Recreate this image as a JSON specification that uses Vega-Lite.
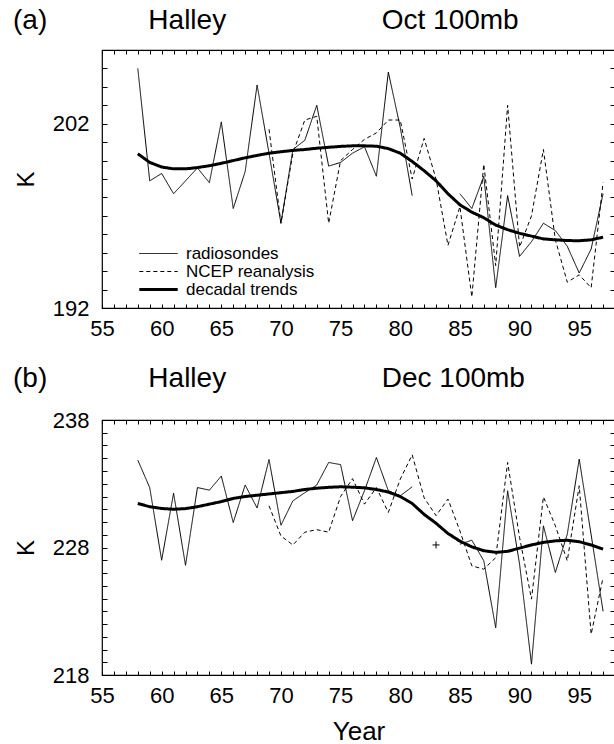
{
  "$schema": "https://vega.github.io/schema/vega-lite/v6.json",
  "padding": {"left": 12, "top": 6, "right": 0, "bottom": 0},
  "background": "white",
  "bounds": "flush",
  "spacing": 112,
  "datasets": {
    "oct": [
      {"year": 58, "series": "radiosondes", "K": 205.0},
      {"year": 59, "series": "radiosondes", "K": 198.9},
      {"year": 60, "series": "radiosondes", "K": 199.3},
      {"year": 61, "series": "radiosondes", "K": 198.2},
      {"year": 62, "series": "radiosondes", "K": 198.9},
      {"year": 63, "series": "radiosondes", "K": 199.6},
      {"year": 64, "series": "radiosondes", "K": 198.8},
      {"year": 65, "series": "radiosondes", "K": 202.1},
      {"year": 66, "series": "radiosondes", "K": 197.4},
      {"year": 67, "series": "radiosondes", "K": 199.4},
      {"year": 68, "series": "radiosondes", "K": 204.1},
      {"year": 69, "series": "radiosondes", "K": 200.4},
      {"year": 70, "series": "radiosondes", "K": 196.6},
      {"year": 71, "series": "radiosondes", "K": 200.6},
      {"year": 72, "series": "radiosondes", "K": 201.1},
      {"year": 73, "series": "radiosondes", "K": 203.0},
      {"year": 74, "series": "radiosondes", "K": 199.7},
      {"year": 75, "series": "radiosondes", "K": 199.9},
      {"year": 76, "series": "radiosondes", "K": 200.4},
      {"year": 77, "series": "radiosondes", "K": 200.75},
      {"year": 78, "series": "radiosondes", "K": 199.15},
      {"year": 79, "series": "radiosondes", "K": 204.8},
      {"year": 80, "series": "radiosondes", "K": 201.8},
      {"year": 81, "series": "radiosondes", "K": 198.1},
      {"year": 82, "series": "radiosondes", "K": null},
      {"year": 83, "series": "radiosondes", "K": null},
      {"year": 84, "series": "radiosondes", "K": null},
      {"year": 85, "series": "radiosondes", "K": 198.2},
      {"year": 86, "series": "radiosondes", "K": 197.4},
      {"year": 87, "series": "radiosondes", "K": 199.15},
      {"year": 88, "series": "radiosondes", "K": 193.1},
      {"year": 89, "series": "radiosondes", "K": 198.1},
      {"year": 90, "series": "radiosondes", "K": 194.8},
      {"year": 91, "series": "radiosondes", "K": 195.6},
      {"year": 92, "series": "radiosondes", "K": 196.6},
      {"year": 93, "series": "radiosondes", "K": 196.2},
      {"year": 94, "series": "radiosondes", "K": 195.35},
      {"year": 95, "series": "radiosondes", "K": 193.9},
      {"year": 96, "series": "radiosondes", "K": 195.2},
      {"year": 97, "series": "radiosondes", "K": 198.2},
      {"year": 69, "series": "NCEP reanalysis", "K": 201.7},
      {"year": 70, "series": "NCEP reanalysis", "K": 196.6},
      {"year": 71, "series": "NCEP reanalysis", "K": 200.4},
      {"year": 72, "series": "NCEP reanalysis", "K": 202.2},
      {"year": 73, "series": "NCEP reanalysis", "K": 202.4},
      {"year": 74, "series": "NCEP reanalysis", "K": 196.6},
      {"year": 75, "series": "NCEP reanalysis", "K": 200.0},
      {"year": 76, "series": "NCEP reanalysis", "K": 200.6},
      {"year": 77, "series": "NCEP reanalysis", "K": 201.15},
      {"year": 78, "series": "NCEP reanalysis", "K": 201.5},
      {"year": 79, "series": "NCEP reanalysis", "K": 202.2},
      {"year": 80, "series": "NCEP reanalysis", "K": 202.2},
      {"year": 81, "series": "NCEP reanalysis", "K": 199.0},
      {"year": 82, "series": "NCEP reanalysis", "K": 201.2},
      {"year": 83, "series": "NCEP reanalysis", "K": 199.0},
      {"year": 84, "series": "NCEP reanalysis", "K": 195.4},
      {"year": 85, "series": "NCEP reanalysis", "K": 197.5},
      {"year": 86, "series": "NCEP reanalysis", "K": 192.6},
      {"year": 87, "series": "NCEP reanalysis", "K": 199.8},
      {"year": 88, "series": "NCEP reanalysis", "K": 194.3},
      {"year": 89, "series": "NCEP reanalysis", "K": 203.0},
      {"year": 90, "series": "NCEP reanalysis", "K": 195.3},
      {"year": 91, "series": "NCEP reanalysis", "K": 197.0},
      {"year": 92, "series": "NCEP reanalysis", "K": 200.6},
      {"year": 93, "series": "NCEP reanalysis", "K": 195.7},
      {"year": 94, "series": "NCEP reanalysis", "K": 193.4},
      {"year": 95, "series": "NCEP reanalysis", "K": 193.8},
      {"year": 96, "series": "NCEP reanalysis", "K": 193.1},
      {"year": 97, "series": "NCEP reanalysis", "K": 198.8},
      {"year": 58, "series": "decadal trends", "K": 200.37},
      {"year": 59, "series": "decadal trends", "K": 199.9},
      {"year": 60, "series": "decadal trends", "K": 199.65},
      {"year": 61, "series": "decadal trends", "K": 199.55},
      {"year": 62, "series": "decadal trends", "K": 199.55},
      {"year": 63, "series": "decadal trends", "K": 199.62},
      {"year": 64, "series": "decadal trends", "K": 199.72},
      {"year": 65, "series": "decadal trends", "K": 199.85},
      {"year": 66, "series": "decadal trends", "K": 200.0},
      {"year": 67, "series": "decadal trends", "K": 200.15},
      {"year": 68, "series": "decadal trends", "K": 200.28},
      {"year": 69, "series": "decadal trends", "K": 200.4},
      {"year": 70, "series": "decadal trends", "K": 200.48},
      {"year": 71, "series": "decadal trends", "K": 200.55},
      {"year": 72, "series": "decadal trends", "K": 200.6},
      {"year": 73, "series": "decadal trends", "K": 200.67},
      {"year": 74, "series": "decadal trends", "K": 200.72},
      {"year": 75, "series": "decadal trends", "K": 200.77},
      {"year": 76, "series": "decadal trends", "K": 200.8},
      {"year": 77, "series": "decadal trends", "K": 200.8},
      {"year": 78, "series": "decadal trends", "K": 200.78},
      {"year": 79, "series": "decadal trends", "K": 200.65},
      {"year": 80, "series": "decadal trends", "K": 200.4},
      {"year": 81, "series": "decadal trends", "K": 199.95},
      {"year": 82, "series": "decadal trends", "K": 199.45},
      {"year": 83, "series": "decadal trends", "K": 198.9},
      {"year": 84, "series": "decadal trends", "K": 198.2},
      {"year": 85, "series": "decadal trends", "K": 197.6},
      {"year": 86, "series": "decadal trends", "K": 197.2},
      {"year": 87, "series": "decadal trends", "K": 196.9},
      {"year": 88, "series": "decadal trends", "K": 196.5},
      {"year": 89, "series": "decadal trends", "K": 196.25},
      {"year": 90, "series": "decadal trends", "K": 196.05},
      {"year": 91, "series": "decadal trends", "K": 195.9},
      {"year": 92, "series": "decadal trends", "K": 195.75},
      {"year": 93, "series": "decadal trends", "K": 195.7},
      {"year": 94, "series": "decadal trends", "K": 195.66},
      {"year": 95, "series": "decadal trends", "K": 195.65},
      {"year": 96, "series": "decadal trends", "K": 195.7},
      {"year": 97, "series": "decadal trends", "K": 195.84}
    ],
    "dec": [
      {"year": 58, "series": "radiosondes", "K": 234.85},
      {"year": 59, "series": "radiosondes", "K": 232.7},
      {"year": 60, "series": "radiosondes", "K": 227.0},
      {"year": 61, "series": "radiosondes", "K": 232.26},
      {"year": 62, "series": "radiosondes", "K": 226.6},
      {"year": 63, "series": "radiosondes", "K": 232.7},
      {"year": 64, "series": "radiosondes", "K": 232.5},
      {"year": 65, "series": "radiosondes", "K": 233.6},
      {"year": 66, "series": "radiosondes", "K": 229.96},
      {"year": 67, "series": "radiosondes", "K": 232.9},
      {"year": 68, "series": "radiosondes", "K": 231.1},
      {"year": 69, "series": "radiosondes", "K": 234.9},
      {"year": 70, "series": "radiosondes", "K": 229.75},
      {"year": 71, "series": "radiosondes", "K": 231.66},
      {"year": 72, "series": "radiosondes", "K": 232.3},
      {"year": 73, "series": "radiosondes", "K": 232.9},
      {"year": 74, "series": "radiosondes", "K": 234.67},
      {"year": 75, "series": "radiosondes", "K": 234.5},
      {"year": 76, "series": "radiosondes", "K": 230.1},
      {"year": 77, "series": "radiosondes", "K": 232.45},
      {"year": 78, "series": "radiosondes", "K": 235.06},
      {"year": 79, "series": "radiosondes", "K": 232.45},
      {"year": 80, "series": "radiosondes", "K": 232.05},
      {"year": 81, "series": "radiosondes", "K": 232.76},
      {"year": 82, "series": "radiosondes", "K": null},
      {"year": 83, "series": "radiosondes", "K": null},
      {"year": 84, "series": "radiosondes", "K": null},
      {"year": 85, "series": "radiosondes", "K": 228.26},
      {"year": 86, "series": "radiosondes", "K": 228.57},
      {"year": 87, "series": "radiosondes", "K": 226.96},
      {"year": 88, "series": "radiosondes", "K": 221.7},
      {"year": 89, "series": "radiosondes", "K": 232.45},
      {"year": 90, "series": "radiosondes", "K": 226.7},
      {"year": 91, "series": "radiosondes", "K": 218.85},
      {"year": 92, "series": "radiosondes", "K": 229.7},
      {"year": 93, "series": "radiosondes", "K": 226.04},
      {"year": 94, "series": "radiosondes", "K": 229.04},
      {"year": 95, "series": "radiosondes", "K": 234.93},
      {"year": 96, "series": "radiosondes", "K": 229.0},
      {"year": 97, "series": "radiosondes", "K": 223.0},
      {"year": 69, "series": "NCEP reanalysis", "K": 231.27},
      {"year": 70, "series": "NCEP reanalysis", "K": 228.9},
      {"year": 71, "series": "NCEP reanalysis", "K": 228.2},
      {"year": 72, "series": "NCEP reanalysis", "K": 229.2},
      {"year": 73, "series": "NCEP reanalysis", "K": 229.4},
      {"year": 74, "series": "NCEP reanalysis", "K": 229.2},
      {"year": 75, "series": "NCEP reanalysis", "K": 232.0},
      {"year": 76, "series": "NCEP reanalysis", "K": 233.4},
      {"year": 77, "series": "NCEP reanalysis", "K": 231.4},
      {"year": 78, "series": "NCEP reanalysis", "K": 232.7},
      {"year": 79, "series": "NCEP reanalysis", "K": 230.75},
      {"year": 80, "series": "NCEP reanalysis", "K": 233.36},
      {"year": 81, "series": "NCEP reanalysis", "K": 235.27},
      {"year": 82, "series": "NCEP reanalysis", "K": 231.9},
      {"year": 83, "series": "NCEP reanalysis", "K": 230.5},
      {"year": 84, "series": "NCEP reanalysis", "K": 231.8},
      {"year": 85, "series": "NCEP reanalysis", "K": 229.3},
      {"year": 86, "series": "NCEP reanalysis", "K": 226.56},
      {"year": 87, "series": "NCEP reanalysis", "K": 226.3},
      {"year": 88, "series": "NCEP reanalysis", "K": 227.2},
      {"year": 89, "series": "NCEP reanalysis", "K": 234.67},
      {"year": 90, "series": "NCEP reanalysis", "K": 228.8},
      {"year": 91, "series": "NCEP reanalysis", "K": 223.95},
      {"year": 92, "series": "NCEP reanalysis", "K": 231.97},
      {"year": 93, "series": "NCEP reanalysis", "K": 229.7},
      {"year": 94, "series": "NCEP reanalysis", "K": 226.96},
      {"year": 95, "series": "NCEP reanalysis", "K": 232.84},
      {"year": 96, "series": "NCEP reanalysis", "K": 221.2},
      {"year": 97, "series": "NCEP reanalysis", "K": 225.65},
      {"year": 58, "series": "decadal trends", "K": 231.45},
      {"year": 59, "series": "decadal trends", "K": 231.2},
      {"year": 60, "series": "decadal trends", "K": 231.06},
      {"year": 61, "series": "decadal trends", "K": 231.0},
      {"year": 62, "series": "decadal trends", "K": 231.05},
      {"year": 63, "series": "decadal trends", "K": 231.2},
      {"year": 64, "series": "decadal trends", "K": 231.4},
      {"year": 65, "series": "decadal trends", "K": 231.6},
      {"year": 66, "series": "decadal trends", "K": 231.85},
      {"year": 67, "series": "decadal trends", "K": 232.0},
      {"year": 68, "series": "decadal trends", "K": 232.1},
      {"year": 69, "series": "decadal trends", "K": 232.2},
      {"year": 70, "series": "decadal trends", "K": 232.3},
      {"year": 71, "series": "decadal trends", "K": 232.4},
      {"year": 72, "series": "decadal trends", "K": 232.55},
      {"year": 73, "series": "decadal trends", "K": 232.65},
      {"year": 74, "series": "decadal trends", "K": 232.72},
      {"year": 75, "series": "decadal trends", "K": 232.76},
      {"year": 76, "series": "decadal trends", "K": 232.73},
      {"year": 77, "series": "decadal trends", "K": 232.68},
      {"year": 78, "series": "decadal trends", "K": 232.55},
      {"year": 79, "series": "decadal trends", "K": 232.35},
      {"year": 80, "series": "decadal trends", "K": 232.0},
      {"year": 81, "series": "decadal trends", "K": 231.45},
      {"year": 82, "series": "decadal trends", "K": 230.6},
      {"year": 83, "series": "decadal trends", "K": 229.9},
      {"year": 84, "series": "decadal trends", "K": 229.1},
      {"year": 85, "series": "decadal trends", "K": 228.5},
      {"year": 86, "series": "decadal trends", "K": 228.05},
      {"year": 87, "series": "decadal trends", "K": 227.75},
      {"year": 88, "series": "decadal trends", "K": 227.62},
      {"year": 89, "series": "decadal trends", "K": 227.7},
      {"year": 90, "series": "decadal trends", "K": 227.95},
      {"year": 91, "series": "decadal trends", "K": 228.2},
      {"year": 92, "series": "decadal trends", "K": 228.4},
      {"year": 93, "series": "decadal trends", "K": 228.52},
      {"year": 94, "series": "decadal trends", "K": 228.57},
      {"year": 95, "series": "decadal trends", "K": 228.45},
      {"year": 96, "series": "decadal trends", "K": 228.2},
      {"year": 97, "series": "decadal trends", "K": 227.87}
    ],
    "dec_mark": [
      {"year": 83, "K": 228.2}
    ]
  },
  "config": {
    "font": "Liberation Sans",
    "view": {"stroke": "black", "strokeWidth": 1.2},
    "axis": {
      "domain": false, "grid": false, "tickColor": "black", "tickWidth": 1,
      "labelColor": "black", "labelFontSize": 22, "labelFont": "Liberation Sans",
      "labelFlush": false, "labelOverlap": false,
      "titleColor": "black", "titleFont": "Liberation Sans", "titleFontWeight": "normal"
    },
    "title": {"font": "Liberation Sans", "fontSize": 28, "fontWeight": "normal", "color": "black", "anchor": "start", "frame": "group", "baseline": "alphabetic"}
  },
  "resolve": {
    "scale": {"strokeDash": "independent", "strokeWidth": "independent"},
    "legend": {"strokeDash": "independent", "strokeWidth": "independent"}
  },
  "vconcat": [
    {
      "width": 513,
      "height": 258,
      "title": {"text": "(a)\u00a0\u00a0\u00a0\u00a0\u00a0\u00a0\u00a0\u00a0\u00a0\u00a0\u00a0\u00a0\u00a0Halley\u00a0\u00a0\u00a0\u00a0\u00a0\u00a0\u00a0\u00a0\u00a0\u00a0\u00a0\u00a0\u00a0\u00a0\u00a0\u00a0\u00a0\u00a0\u00a0\u00a0Oct 100mb", "dx": -89, "offset": 4},
      "data": {"name": "oct"},
      "layer": [
        {
          "transform": [{"filter": {"field": "series", "oneOf": ["radiosondes", "NCEP reanalysis"]}}],
          "mark": {"type": "line", "color": "black", "invalid": "break-paths-show-domains"},
          "encoding": {
            "x": {"field": "year", "type": "quantitative", "scale": {"domain": [55, 98], "nice": false, "zero": false},
              "axis": {"orient": "bottom", "title": null, "values": [55,56,57,58,59,60,61,62,63,64,65,66,67,68,69,70,71,72,73,74,75,76,77,78,79,80,81,82,83,84,85,86,87,88,89,90,91,92,93,94,95,96,97,98],
                "labelExpr": "datum.value % 5 === 0 ? datum.label : ''", "tickSize": -4, "labelPadding": 14}},
            "y": {"field": "K", "type": "quantitative", "scale": {"domain": [192, 206], "nice": false, "zero": false},
              "axis": {"orient": "left", "title": "K", "titleFontSize": 24, "titlePadding": 14, "values": [192,193,194,195,196,197,198,199,200,201,202,203,204,205,206],
                "labelExpr": "datum.value % 10 === 2 ? datum.label : ''", "tickSize": -5, "labelPadding": 18}},
            "strokeDash": {"field": "series", "type": "nominal",
              "scale": {"domain": ["radiosondes", "NCEP reanalysis", "decadal trends"], "range": [[1, 0], [4, 3], [1, 0]]},
              "legend": {"orient": "none", "legendX": 47, "legendY": 195, "title": null, "padding": 0, "symbolType": "M-2.4,0H2.4", "symbolSize": 256, "symbolStrokeColor": "black", "labelFont": "Liberation Sans", "labelFontSize": 17, "labelColor": "black", "labelOffset": 18, "rowPadding": 0}},
            "strokeWidth": {"field": "series", "type": "nominal",
              "scale": {"type": "ordinal", "domain": ["radiosondes", "NCEP reanalysis", "decadal trends"], "range": [1, 1, 3]},
              "legend": {"orient": "none", "legendX": 47, "legendY": 195, "title": null, "padding": 0, "symbolType": "M-2.4,0H2.4", "symbolSize": 256, "symbolStrokeColor": "black", "labelFont": "Liberation Sans", "labelFontSize": 17, "labelColor": "black", "labelOffset": 18, "rowPadding": 0}}
          }
        },
        {
          "transform": [{"filter": {"field": "series", "equal": "decadal trends"}}],
          "mark": {"type": "line", "color": "black"},
          "encoding": {
            "x": {"field": "year", "type": "quantitative",
              "axis": {"orient": "top", "title": null, "labels": false, "values": [55,56,57,58,59,60,61,62,63,64,65,66,67,68,69,70,71,72,73,74,75,76,77,78,79,80,81,82,83,84,85,86,87,88,89,90,91,92,93,94,95,96,97,98], "tickSize": -4}},
            "y": {"field": "K", "type": "quantitative",
              "axis": {"orient": "right", "title": null, "labels": false, "values": [192,193,194,195,196,197,198,199,200,201,202,203,204,205,206], "tickSize": -5}},
            "strokeDash": {"field": "series", "type": "nominal",
              "scale": {"domain": ["radiosondes", "NCEP reanalysis", "decadal trends"], "range": [[1, 0], [4, 3], [1, 0]]},
              "legend": {"orient": "none", "legendX": 47, "legendY": 195, "title": null, "padding": 0, "symbolType": "M-2.4,0H2.4", "symbolSize": 256, "symbolStrokeColor": "black", "labelFont": "Liberation Sans", "labelFontSize": 17, "labelColor": "black", "labelOffset": 18, "rowPadding": 0}},
            "strokeWidth": {"field": "series", "type": "nominal",
              "scale": {"type": "ordinal", "domain": ["radiosondes", "NCEP reanalysis", "decadal trends"], "range": [1, 1, 3]},
              "legend": {"orient": "none", "legendX": 47, "legendY": 195, "title": null, "padding": 0, "symbolType": "M-2.4,0H2.4", "symbolSize": 256, "symbolStrokeColor": "black", "labelFont": "Liberation Sans", "labelFontSize": 17, "labelColor": "black", "labelOffset": 18, "rowPadding": 0}}
          }
        }
      ]
    },
    {
      "width": 513,
      "height": 255,
      "title": {"text": "(b)\u00a0\u00a0\u00a0\u00a0\u00a0\u00a0\u00a0\u00a0\u00a0\u00a0\u00a0\u00a0\u00a0Halley\u00a0\u00a0\u00a0\u00a0\u00a0\u00a0\u00a0\u00a0\u00a0\u00a0\u00a0\u00a0\u00a0\u00a0\u00a0\u00a0\u00a0\u00a0\u00a0\u00a0Dec 100mb", "dx": -89, "offset": 16},
      "data": {"name": "dec"},
      "layer": [
        {
          "transform": [{"filter": {"field": "series", "oneOf": ["radiosondes", "NCEP reanalysis"]}}],
          "mark": {"type": "line", "color": "black", "invalid": "break-paths-show-domains"},
          "encoding": {
            "x": {"field": "year", "type": "quantitative", "scale": {"domain": [55, 98], "nice": false, "zero": false},
              "axis": {"orient": "bottom", "title": "Year", "titleFontSize": 26, "titlePadding": 12, "values": [55,56,57,58,59,60,61,62,63,64,65,66,67,68,69,70,71,72,73,74,75,76,77,78,79,80,81,82,83,84,85,86,87,88,89,90,91,92,93,94,95,96,97,98],
                "labelExpr": "datum.value % 5 === 0 ? datum.label : ''", "tickSize": -4, "labelPadding": 14}},
            "y": {"field": "K", "type": "quantitative", "scale": {"domain": [218, 238], "nice": false, "zero": false},
              "axis": {"orient": "left", "title": "K", "titleFontSize": 24, "titlePadding": 14, "values": [218,219,220,221,222,223,224,225,226,227,228,229,230,231,232,233,234,235,236,237,238],
                "labelExpr": "datum.value % 10 === 8 ? datum.label : ''", "tickSize": -5, "labelPadding": 18}},
            "strokeDash": {"field": "series", "type": "nominal",
              "scale": {"domain": ["radiosondes", "NCEP reanalysis", "decadal trends"], "range": [[1, 0], [4, 3], [1, 0]]},
              "legend": null},
            "strokeWidth": {"field": "series", "type": "nominal",
              "scale": {"type": "ordinal", "domain": ["radiosondes", "NCEP reanalysis", "decadal trends"], "range": [1, 1, 3]},
              "legend": null}
          }
        },
        {
          "transform": [{"filter": {"field": "series", "equal": "decadal trends"}}],
          "mark": {"type": "line", "color": "black"},
          "encoding": {
            "x": {"field": "year", "type": "quantitative",
              "axis": {"orient": "top", "title": null, "labels": false, "values": [55,56,57,58,59,60,61,62,63,64,65,66,67,68,69,70,71,72,73,74,75,76,77,78,79,80,81,82,83,84,85,86,87,88,89,90,91,92,93,94,95,96,97,98], "tickSize": -4}},
            "y": {"field": "K", "type": "quantitative",
              "axis": {"orient": "right", "title": null, "labels": false, "values": [218,219,220,221,222,223,224,225,226,227,228,229,230,231,232,233,234,235,236,237,238], "tickSize": -5}},
            "strokeDash": {"field": "series", "type": "nominal",
              "scale": {"domain": ["radiosondes", "NCEP reanalysis", "decadal trends"], "range": [[1, 0], [4, 3], [1, 0]]},
              "legend": null},
            "strokeWidth": {"field": "series", "type": "nominal",
              "scale": {"type": "ordinal", "domain": ["radiosondes", "NCEP reanalysis", "decadal trends"], "range": [1, 1, 3]},
              "legend": null}
          }
        },
        {
          "data": {"name": "dec_mark"},
          "mark": {"type": "point", "shape": "M-1,0H1M0,-1V1", "size": 49, "stroke": "black", "strokeWidth": 1, "filled": false, "opacity": 1},
          "encoding": {
            "x": {"field": "year", "type": "quantitative", "axis": null},
            "y": {"field": "K", "type": "quantitative", "axis": null}
          }
        }
      ]
    }
  ]
}
